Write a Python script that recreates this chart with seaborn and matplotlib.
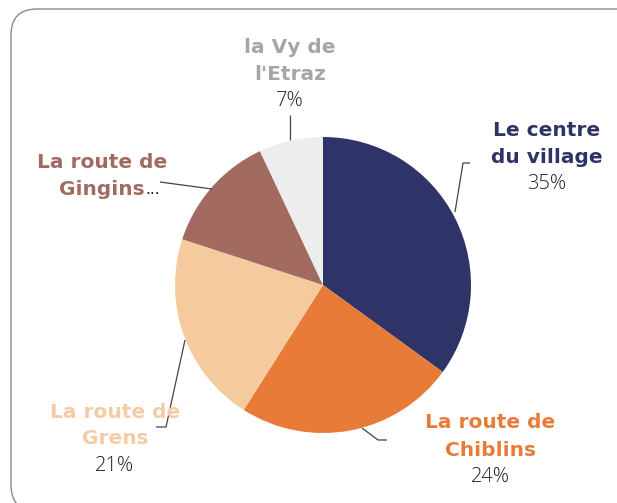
import matplotlib
matplotlib.use("Agg")
import matplotlib.pyplot as plt
import seaborn as sns
from matplotlib.patches import FancyBboxPatch

# data
categories = ["Le centre\ndu village", "La route de\nChiblins", "La route de\nGrens",
              "La route de\nGingins", "la Vy de\nl'Etraz"]
shares = [35, 24, 21, 13, 7]
pct_labels = ["35%", "24%", "21%", "", "7%"]
slice_colors = ["#2E3468", "#E87B38", "#F6CA9F", "#A26A61", "#EDEDED"]
label_colors = ["#2E3468", "#E87B38", "#F3CBA5", "#A26A61", "#A6A6A6"]

W, H = 617, 503

def Y(y):
    return H - y

sns.set_theme(style="white")
plt.rcParams['font.family'] = ['DejaVu Sans']

fig = plt.figure(figsize=(W / 100, H / 100), dpi=100)
ax = fig.add_axes([0, 0, 1, 1])
ax.set_xlim(0, W)
ax.set_ylim(0, H)

# card border (runs off the right and bottom edges)
card = FancyBboxPatch((11, Y(511)), 640, 502, boxstyle="round,pad=0,rounding_size=26",
                      fc="white", ec="#8a8a8a", lw=1.0, clip_on=True)
ax.add_patch(card)

ax.pie(shares, colors=slice_colors, startangle=90, counterclock=False,
       center=(323, Y(285)), radius=148, wedgeprops=dict(linewidth=0))
ax.set_xlim(0, W)
ax.set_ylim(0, H)
ax.set_aspect("auto")

# label anchors (name block centre x, first line y) in image pixels
anchors = [(547, 130), (490, 423), (115, 412), (102, 162), (290, 47)]
line_gap = 27
name_texts = []
for name, pct, col, (x, y) in zip(categories, pct_labels, label_colors, anchors):
    lines = name.split("\n")
    for i, ln in enumerate(lines):
        t = ax.text(x, Y(y + i * line_gap), ln, ha="center", va="center",
                    fontsize=14.5, fontweight="bold", color=col)
        name_texts.append(t)
    if pct:
        ax.text(x, Y(y + len(lines) * line_gap), pct, ha="center", va="center",
                fontsize=14.5, fontweight="light", color="#222222",
                family=["Open Sans", "DejaVu Sans"])

# truncated label marker right after "Gingins"
fig.canvas.draw()
gt = name_texts[7]
bb = gt.get_window_extent().transformed(ax.transData.inverted())
ax.text(bb.x1 + 1, bb.y0 + 2, "...", ha="left", va="bottom", fontsize=11,
        color="#222222")

# leader lines
leaders = [
    [(470, 163), (463, 163), (455, 212)],
    [(362, 428), (378, 440), (387, 440)],
    [(185, 340), (166, 427), (156, 427)],
    [(160, 182), (212, 189)],
    [(290, 115), (290, 140)],
]
for pts in leaders:
    xs = [p[0] for p in pts]
    ys = [Y(p[1]) for p in pts]
    ax.plot(xs, ys, color="#444444", lw=0.9, solid_capstyle="butt")

ax.axis("off")

fig.savefig("out.png", dpi=100)
